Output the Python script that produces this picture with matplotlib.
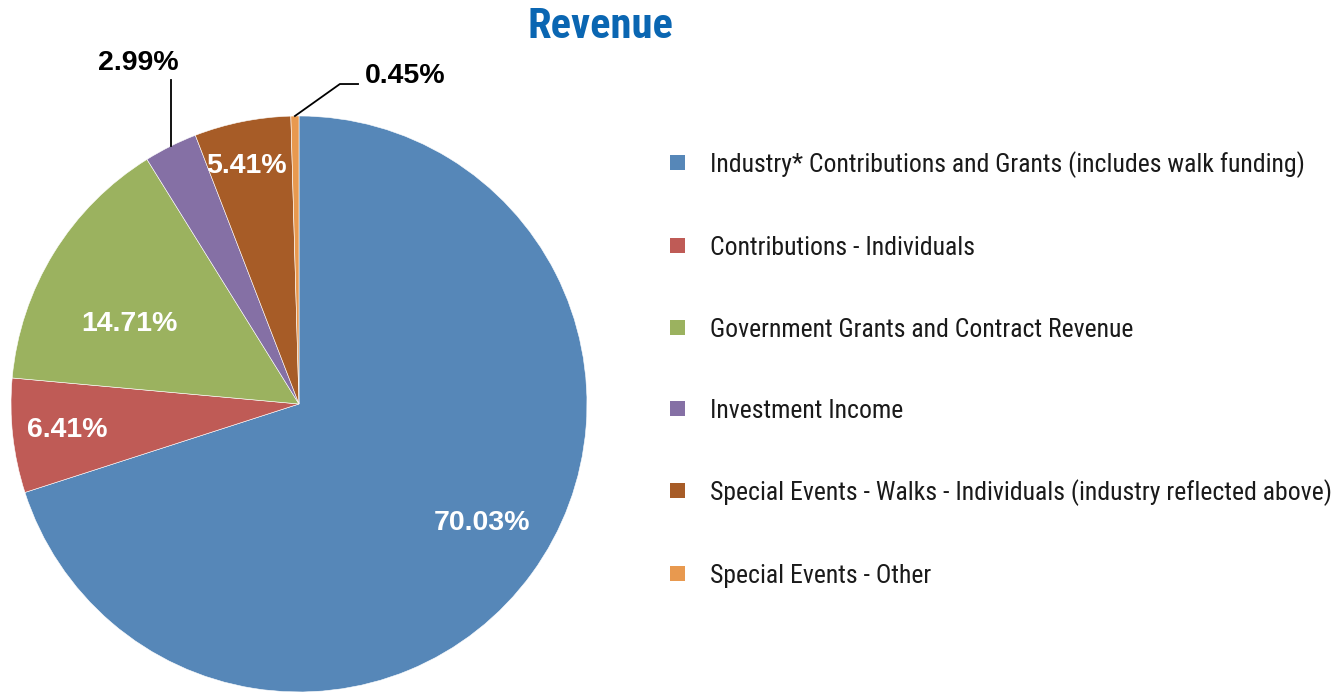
import os
import matplotlib
matplotlib.use("Agg")
import matplotlib.pyplot as plt
import numpy as np
from matplotlib import font_manager
from matplotlib.font_manager import FontProperties
from matplotlib.patches import Rectangle

categories = [
    "Industry* Contributions and Grants (includes walk funding)",
    "Contributions - Individuals",
    "Government Grants and Contract Revenue",
    "Investment Income",
    "Special Events - Walks - Individuals (industry reflected above)",
    "Special Events - Other",
]
shares = [70.03, 6.41, 14.71, 2.99, 5.41, 0.45]
pct_labels = ["70.03%", "6.41%", "14.71%", "2.99%", "5.41%", "0.45%"]
colors = ["#5687b8", "#bf5b56", "#9bb25f", "#8570a5", "#a75c27", "#e8994f"]

W, H = 1342, 694


def find_condensed(bold):
    # look for any narrow/condensed cut that is installed
    skip = ["italic", "oblique", "light", "thin", "medium", "semi", "extra", "black", "["]
    if not bold:
        skip.append("bold")
    order = ["liberation", "roboto", "noto", "opensans", "open", "dejavu", ""]
    files = sorted({f.fname for f in font_manager.fontManager.ttflist})
    for pref in order:
        for fn in files:
            b = os.path.basename(fn).lower()
            if not b.startswith(pref) or not ("narrow" in b or "condensed" in b):
                continue
            if any(s in b for s in skip):
                continue
            if bold and "bold" not in b:
                continue
            return dict(fname=fn)
    return dict(family="Liberation Sans", weight="bold" if bold else "normal")


def font_file(name, **fallback):
    for f in font_manager.fontManager.ttflist:
        if os.path.basename(f.fname) == name:
            return dict(fname=f.fname)
    return fallback


bold_font = font_file("LiberationSans-Bold.ttf", family="Liberation Sans", weight="bold")
narrow_font = find_condensed(False)
narrow_bold = find_condensed(True)

fig = plt.figure(figsize=(W / 100, H / 100), dpi=100)
ax = fig.add_axes([0.0082, 0.0029, 0.4292, 0.830])

wedges, _ = ax.pie(shares, colors=colors, startangle=90, counterclock=False,
                   wedgeprops=dict(edgecolor="white", linewidth=0.4))
ax.set_xlim(-1, 1)
ax.set_ylim(-1, 1)
ax.set_aspect("equal")

# inside labels (white): radial fraction and small angle nudge per slice
inside = {0: (0.757, 3.0), 1: (0.81, 0.0), 2: (0.65, 6.5), 4: (0.845, 1.0)}
for i, (frac, nudge) in inside.items():
    w = wedges[i]
    ang = np.deg2rad((w.theta1 + w.theta2) / 2 + nudge)
    ax.text(frac * np.cos(ang), frac * np.sin(ang), pct_labels[i], color="white",
            fontproperties=FontProperties(size=20.5, **bold_font),
            ha="center", va="center")

# 2.99% with vertical leader
w = wedges[3]
ang = np.deg2rad((w.theta1 + w.theta2) / 2)
x0, y0 = np.cos(ang), np.sin(ang)
ax.plot([x0, x0], [y0, 1.125], color="black", lw=1.3, clip_on=False)
ax.text(-0.559, 1.184, pct_labels[3], fontproperties=FontProperties(size=20.5, **bold_font),
        ha="center", va="center")

# 0.45% with bent leader
w = wedges[5]
ang = np.deg2rad((w.theta1 + w.theta2) / 2)
x0, y0 = np.cos(ang), np.sin(ang)
ax.plot([x0, 0.142, 0.205], [y0, 1.111, 1.111], color="black", lw=1.3, clip_on=False)
ax.text(0.368, 1.139, pct_labels[5], fontproperties=FontProperties(size=20.5, **bold_font),
        ha="center", va="center")

title = fig.text(600 / W, 1 - 27 / H, "Revenue", color="#0a66b2",
                 fontproperties=FontProperties(size=30, **narrow_bold), ha="center", va="center")

# legend drawn by hand: square + label per row
row_y = [165, 248, 330, 411, 493, 576]
legend_texts = []
for i, lab in enumerate(categories):
    y = 1 - row_y[i] / H
    fig.patches.append(Rectangle((670 / W, y - 5 / H), 15 / W, 15 / H, transform=fig.transFigure,
                                 facecolor=colors[i], edgecolor="none"))
    legend_texts.append(fig.text(710 / W, y, lab, color="#1a1a1a", ha="left", va="center",
                                 fontproperties=FontProperties(size=18, **narrow_font)))

# fit sizes to the widths in the reference
fig.canvas.draw()
r = fig.canvas.get_renderer()
lw = legend_texts[0].get_window_extent(r).width
scale = 597 / lw
for t in legend_texts:
    t.set_fontsize(min(18 * scale, 24))
tw = title.get_window_extent(r).width
title.set_fontsize(min(30 * 146 / tw, 32))

fig.savefig("out.png", dpi=100)
